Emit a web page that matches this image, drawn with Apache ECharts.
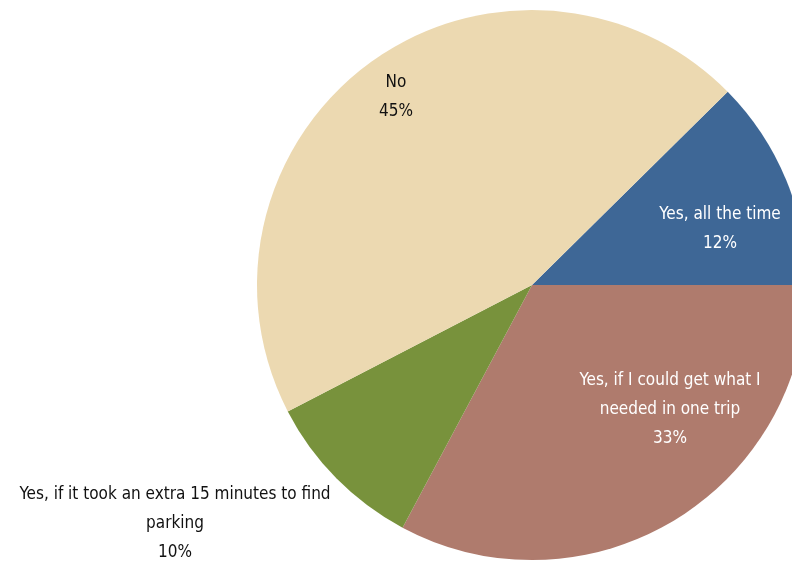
<!DOCTYPE html>
<html>
<head>
<meta charset="utf-8">
<script src="https://cdn.jsdelivr.net/npm/echarts@6/dist/echarts.min.js"></script>
<style>
html,body{margin:0;padding:0;background:#fff;}
#chart{width:792px;height:565px;}
</style>
</head>
<body>
<div id="chart"></div>
<script>
// Data
var categories = [
  'Yes, all the time',
  'Yes, if I could get what I needed in one trip',
  'Yes, if it took an extra 15 minutes to find parking',
  'No'
];
var labelLines = [
  'Yes, all the time',
  'Yes, if I could get what I\nneeded in one trip',
  'Yes, if it took an extra 15 minutes to find\nparking',
  'No'
];
var values = [12.4, 32.8, 9.6, 45.2];

// Styles / layout
var colors = ['#3E6796', '#AF7B6D', '#78923C', '#ECD9B1'];
var textColors = ['#ffffff', '#ffffff', '#111111', '#111111'];
var centerPx = [532, 285];
var labelOffsets = [[188, -56], [138, 125], [-357, 239], [-136, -188]];
var fontFamily = '"Liberation Sans Narrow", "Arial Narrow", "DejaVu Sans Condensed", sans-serif';

var total = values.reduce(function (a, b) { return a + b; }, 0);
var startAngle = values[0] / total * 360;

var chart = echarts.init(document.getElementById('chart'), null, {renderer: 'canvas'});
var data = categories.map(function (c, i) {
  return {
    name: c,
    value: values[i],
    itemStyle: {color: colors[i]},
    label: {color: textColors[i]}
  };
});

chart.setOption({
  animation: false,
  series: [{
    type: 'pie',
    center: centerPx,
    radius: 275,
    startAngle: startAngle,
    clockwise: true,
    data: data,
    itemStyle: {borderWidth: 0},
    emphasis: {disabled: true},
    labelLine: {show: false},
    label: {
      show: true,
      position: 'inside',
      fontFamily: fontFamily,
      fontSize: 17,
      lineHeight: 29,
      align: 'center',
      formatter: function (p) {
        return labelLines[p.dataIndex] + '\n' + Math.round(p.value) + '%';
      }
    },
    labelLayout: function (params) {
      var o = labelOffsets[params.dataIndex];
      return {
        x: centerPx[0] + o[0],
        y: centerPx[1] + o[1],
        align: 'center',
        verticalAlign: 'middle'
      };
    }
  }]
});
</script>
</body>
</html>
